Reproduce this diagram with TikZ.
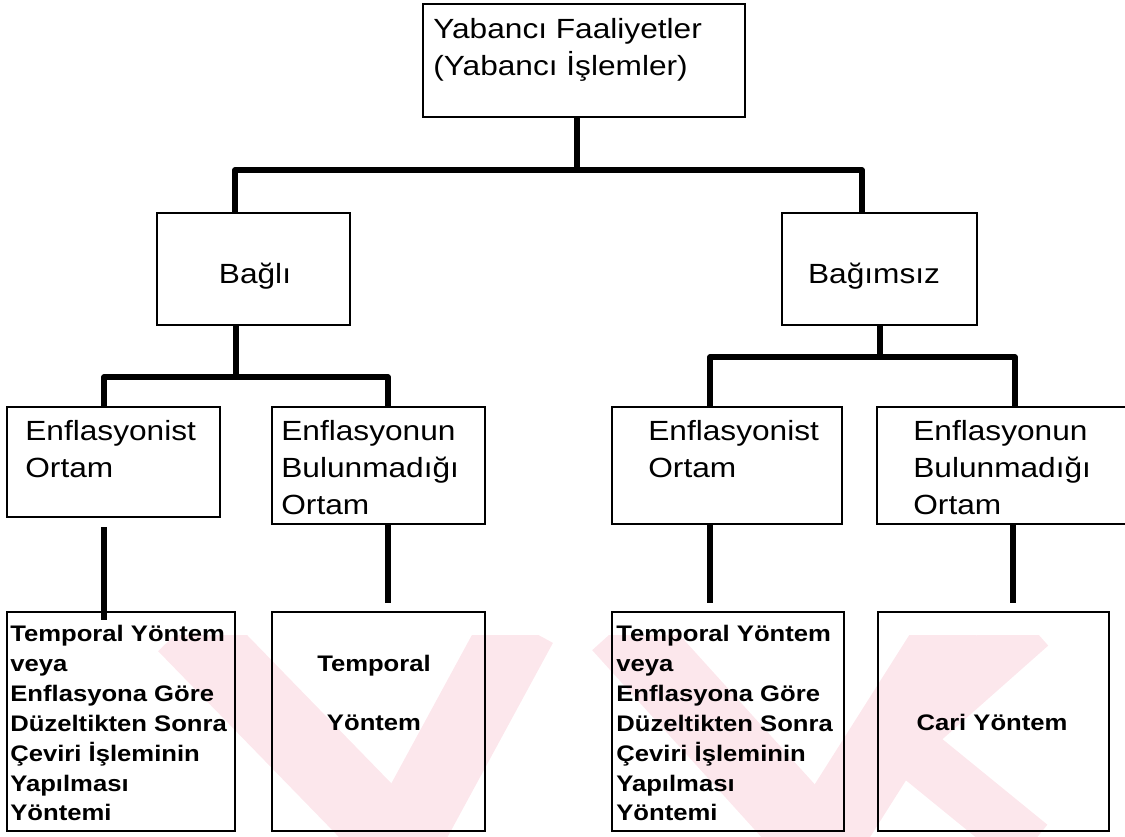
\documentclass[tikz,border=0pt]{standalone}
\usepackage{fontspec}
\setmainfont{Liberation Sans}[FakeStretch=1.14]
\usetikzlibrary{positioning}

\definecolor{wmpink}{RGB}{252,231,236}

\tikzset{
	box/.style={draw, rectangle, line width=1.1pt, inner sep=0pt},
	conn/.style={line width=2.9pt, line join=round},
	bigtxt/.style={font=\fontsize{15.8}{21}\selectfont, inner sep=0pt, align=left},
	smalltxt/.style={font=\fontsize{12.8}{17}\selectfont\bfseries, inner sep=0pt, align=left}
}

\begin{document}
\begin{tikzpicture}[x=0.02cm, y=-0.02cm]

	% frame
	\useasboundingbox (0,0) rectangle (1125,836);

	% watermark
	\begin{scope}
		\clip (0,635) rectangle (1125,836);
		\draw[wmpink, line width=1.5cm] (185,625)--(400,846);
		\draw[wmpink, line width=1.5cm] (520,625)--(400,846);
		\draw[wmpink, line width=1.5cm] (620,625)--(820,846);
		\draw[wmpink, line width=1.5cm] (960,625)--(820,846);
		\draw[wmpink, line width=1.1cm] (1030,625)--(900,740)--(1030,846);
	\end{scope}

	% boxes
	\node[box, minimum width=6.44cm, minimum height=2.26cm] (top) at (584,60.5) {};
	\node[box, minimum width=3.86cm, minimum height=2.24cm] (bagli) at (253.5,269) {};
	\node[box, minimum width=3.90cm, minimum height=2.24cm] (bagimsiz) at (879.5,269) {};
	\node[box, minimum width=4.26cm, minimum height=2.20cm] (lenf) at (113.5,462) {};
	\node[box, minimum width=4.26cm, minimum height=2.34cm] (lnon) at (378.5,465.5) {};
	\node[box, minimum width=4.60cm, minimum height=2.34cm] (renf) at (727,465.5) {};
	\node[box, minimum width=5.00cm, minimum height=2.34cm] (rnon) at (1002,465.5) {};
	\node[box, minimum width=4.56cm, minimum height=4.38cm] (lmeth) at (121,721.5) {};
	\node[box, minimum width=4.26cm, minimum height=4.38cm] (ltemp) at (378.5,721.5) {};
	\node[box, minimum width=4.64cm, minimum height=4.38cm] (rmeth) at (728,721.5) {};
	\node[box, minimum width=4.62cm, minimum height=4.38cm] (cari) at (993.5,721.5) {};

	% texts
	\node[bigtxt, anchor=north west] (tTop) at (433,18) {Yabancı Faaliyetler\\(Yabancı İşlemler)};
	\node[bigtxt, anchor=base] (tBagli) at (255,283) {Bağlı};
	\node[bigtxt, anchor=base] (tBagimsiz) at (874,283) {Bağımsız};
	\node[bigtxt, anchor=north west] (tLenf) at (25,420) {Enflasyonist\\Ortam};
	\node[bigtxt, anchor=north west] (tLnon) at (281,420) {Enflasyonun\\Bulunmadığı\\Ortam};
	\node[bigtxt, anchor=north west] (tRenf) at (648,420) {Enflasyonist\\Ortam};
	\node[bigtxt, anchor=north west] (tRnon) at (913,420) {Enflasyonun\\Bulunmadığı\\Ortam};
	\node[smalltxt, anchor=north west] (tLmeth) at (10,625) {Temporal Yöntem\\veya\\Enflasyona Göre\\Düzeltikten Sonra\\Çeviri İşleminin\\Yapılması\\Yöntemi};
	\node[smalltxt, anchor=north west] (tRmeth) at (616,625) {Temporal Yöntem\\veya\\Enflasyona Göre\\Düzeltikten Sonra\\Çeviri İşleminin\\Yapılması\\Yöntemi};
	\node[smalltxt, anchor=base] (tTemp1) at (374,671) {Temporal};
	\node[smalltxt, anchor=base] (tTemp2) at (374,730) {Yöntem};
	\node[smalltxt, anchor=base] (tCari) at (992,730) {Cari Yöntem};

	% first level
	\coordinate (jTop) at (577,170);
	\coordinate (jL) at (235,170);
	\coordinate (jR) at (862,170);
	\draw[conn] (top.south -| jTop) -- (jTop);
	\draw[conn] (bagli.north -| jL) -- (jL) -- (jR) -- (bagimsiz.north -| jR);

	% second level, left
	\coordinate (kL) at (236,377);
	\coordinate (kL1) at (104,377);
	\coordinate (kL2) at (388,377);
	\draw[conn] (bagli.south -| kL) -- (kL);
	\draw[conn] (lenf.north -| kL1) -- (kL1) -- (kL2) -- (lnon.north -| kL2);

	% second level, right
	\coordinate (kR) at (880,357);
	\coordinate (kR1) at (710,357);
	\coordinate (kR2) at (1015,357);
	\draw[conn] (bagimsiz.south -| kR) -- (kR);
	\draw[conn] (renf.north -| kR1) -- (kR1) -- (kR2) -- (rnon.north -| kR2);

	% third level
	\coordinate (m1a) at (104,527);
	\coordinate (m1b) at (104,620);
	\coordinate (m2) at (388,603);
	\coordinate (m3) at (710,603);
	\coordinate (m4) at (1013,603);
	\draw[conn] (m1a) -- (m1b);
	\draw[conn] (lnon.south -| m2) -- (m2);
	\draw[conn] (renf.south -| m3) -- (m3);
	\draw[conn] (rnon.south -| m4) -- (m4);

\end{tikzpicture}
\end{document}
